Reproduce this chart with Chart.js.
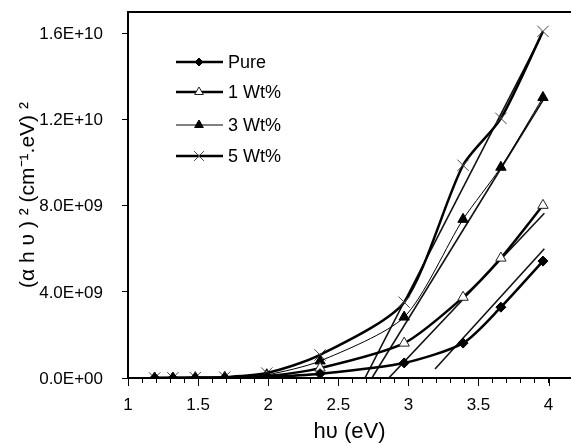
<!DOCTYPE html>
<html>
<head>
<meta charset="utf-8">
<script src="https://cdn.jsdelivr.net/npm/chart.js@4"></script>
<style>
  html, body { margin: 0; padding: 0; background: #fff; overflow: hidden; }
  #wrap { width: 571px; height: 443px; position: relative; }
</style>
</head>
<body>
<div id="wrap"><canvas id="chart"></canvas></div>
<script>
const ENERGY = [1.19, 1.32, 1.48, 1.69, 1.99, 2.37, 2.97, 3.39, 3.66, 3.96];

const PURE = [0, 0, 0, 1e7, 5e7, 2e8, 7e8, 1.62e9, 3.29e9, 5.43e9];
const WT1 = [0, 0, 1e7, 2e7, 9e7, 4.6e8, 1.62e9, 3.75e9, 5.57e9, 8.02e9];
const WT3 = [0, 0, 1e7, 3e7, 1.5e8, 7.9e8, 2.83e9, 7.37e9, 9.79e9, 1.303e10];
const WT5 = [0, 1e7, 2e7, 4e7, 2.3e8, 1.07e9, 3.52e9, 9.88e9, 1.206e10, 1.61e10];

// straight extrapolation lines (start / end)
const FIT_X = {
  pure: [3.19, 3.97],
  wt1: [2.86, 3.97],
  wt3: [2.74, 3.96],
  wt5: [2.69, 3.94]
};
const FIT_Y = {
  pure: [4.2e8, 6.0e9],
  wt1: [0, 7.65e9],
  wt3: [0, 1.29e10],
  wt5: [0, 1.58e10]
};

const LABELS = ['Pure', '1 Wt%', '3 Wt%', '5 Wt%'];
const Y_TICKS = [0, 4e9, 8e9, 1.2e10, 1.6e10];

const FONT = "'Liberation Sans', Arial, sans-serif";

function pts(xs, ys) {
  return xs.map((x, i) => ({ x, y: ys[i] }));
}

function sciLabel(v) {
  if (v === 0) return '0.0E+00';
  const exp = Math.floor(Math.log10(v));
  const mant = (v / Math.pow(10, exp)).toFixed(1);
  return `${mant}E+${String(exp).padStart(2, '0')}`;
}

const SERIES = [
  { label: LABELS[0], data: PURE, width: 2.5, style: 'rectRot', radius: 5, fill: '#000', stroke: '#000', sw: 1 },
  { label: LABELS[1], data: WT1, width: 2.5, style: 'triangle', radius: 6, fill: '#fff', stroke: '#222', sw: 1 },
  { label: LABELS[2], data: WT3, width: 1, style: 'triangle', radius: 6, fill: '#000', stroke: '#000', sw: 1 },
  { label: LABELS[3], data: WT5, width: 2.5, style: 'crossRot', radius: 8, fill: '#444', stroke: '#444', sw: 1 }
];

const datasets = SERIES.map(s => ({
  label: s.label,
  data: pts(ENERGY, s.data),
  borderColor: '#000',
  borderWidth: s.width,
  tension: 0.25,
  pointStyle: s.style,
  pointRadius: s.radius,
  pointBackgroundColor: s.fill,
  pointBorderColor: s.stroke,
  pointBorderWidth: s.sw
}));

['pure', 'wt1', 'wt3', 'wt5'].forEach(key => {
  datasets.push({
    label: 'fit-' + key,
    data: pts(FIT_X[key], FIT_Y[key]),
    borderColor: '#111',
    borderWidth: 1.6,
    tension: 0,
    pointRadius: 0
  });
});

const frameAndLegend = {
  id: 'frameAndLegend',
  afterDraw(chart) {
    const { ctx, chartArea } = chart;
    const yScale = chart.scales.y;
    const xScale = chart.scales.x;
    ctx.save();
    ctx.strokeStyle = '#000';
    ctx.lineWidth = 2;
    ctx.beginPath();
    ctx.moveTo(chartArea.left - 1, chartArea.top);
    ctx.lineTo(chartArea.right, chartArea.top);
    ctx.stroke();

    // longer marks on the half-unit ticks
    ctx.lineWidth = 1;
    ctx.beginPath();
    [1, 1.5, 2, 2.5, 3, 3.5, 4].forEach(v => {
      const px = Math.round(xScale.getPixelForValue(v)) + 0.5;
      ctx.moveTo(px, chartArea.bottom);
      ctx.lineTo(px, chartArea.bottom + 8);
    });
    ctx.stroke();

    // y tick labels
    ctx.fillStyle = '#000';
    ctx.font = `17px ${FONT}`;
    ctx.textAlign = 'right';
    ctx.textBaseline = 'middle';
    Y_TICKS.forEach(v => {
      ctx.fillText(sciLabel(v), chartArea.left - 25, yScale.getPixelForValue(v) + 1);
    });

    const rows = [62, 92, 125, 156];
    SERIES.forEach((s, i) => {
      const y = rows[i];
      ctx.strokeStyle = '#000';
      ctx.lineWidth = s.width;
      ctx.beginPath();
      ctx.moveTo(176, y);
      ctx.lineTo(223, y);
      ctx.stroke();
      ctx.fillStyle = s.fill;
      ctx.strokeStyle = s.stroke;
      ctx.lineWidth = s.sw;
      Chart.helpers.drawPoint(ctx, { pointStyle: s.style, radius: s.radius - 1, rotation: 0, borderWidth: s.sw }, 199, y);
      ctx.fillStyle = '#000';
      ctx.font = `18px ${FONT}`;
      ctx.textBaseline = 'middle';
      ctx.textAlign = 'left';
      ctx.fillText(s.label, 228, y + 1);
    });
    ctx.restore();
  }
};

new Chart(document.getElementById('chart'), {
  type: 'line',
  data: { datasets },
  options: {
    responsive: true,
    maintainAspectRatio: false,
    animation: false,
    layout: { autoPadding: false, padding: { top: 12, right: 0, left: 0, bottom: 0 } },
    plugins: { legend: { display: false }, tooltip: { enabled: false } },
    scales: {
      x: {
        type: 'linear',
        min: 1,
        max: 4.16,
        afterFit: s => { s.height = 65; s.paddingLeft = 0; s.paddingRight = 0; },
        afterBuildTicks: axis => {
          axis.ticks = axis.ticks.filter(t => t.value <= 4.1 + 1e-6);
        },
        ticks: {
          stepSize: 0.1,
          autoSkip: false,
          maxRotation: 0,
          padding: 12,
          color: '#000',
          font: { family: FONT, size: 17 },
          callback: v => {
            const h = v * 2;
            return Math.abs(h - Math.round(h)) < 1e-6 ? String(Math.round(h) / 2) : '';
          }
        },
        grid: { drawOnChartArea: false, tickLength: 5, color: '#000', lineWidth: 1 },
        border: { color: '#000', width: 2 },
        title: {
          display: true,
          text: 'hυ (eV)',
          color: '#000',
          font: { family: FONT, size: 22 },
          padding: { top: 0, bottom: -2 }
        }
      },
      y: {
        min: 0,
        max: 1.7e10,
        afterFit: s => { s.width = 128; },
        afterBuildTicks: axis => {
          axis.ticks = Y_TICKS.map(v => ({ value: v }));
        },
        ticks: { display: false },
        grid: { drawOnChartArea: false, tickLength: 6, color: '#000', lineWidth: 1 },
        border: { color: '#000', width: 2 },
        title: {
          display: true,
          text: '(α h υ ) ² (cm⁻¹.eV) ²',
          color: '#000',
          font: { family: FONT, size: 21 },
          padding: { top: 16, bottom: 0 }
        }
      }
    }
  },
  plugins: [frameAndLegend]
});
</script>
</body>
</html>
